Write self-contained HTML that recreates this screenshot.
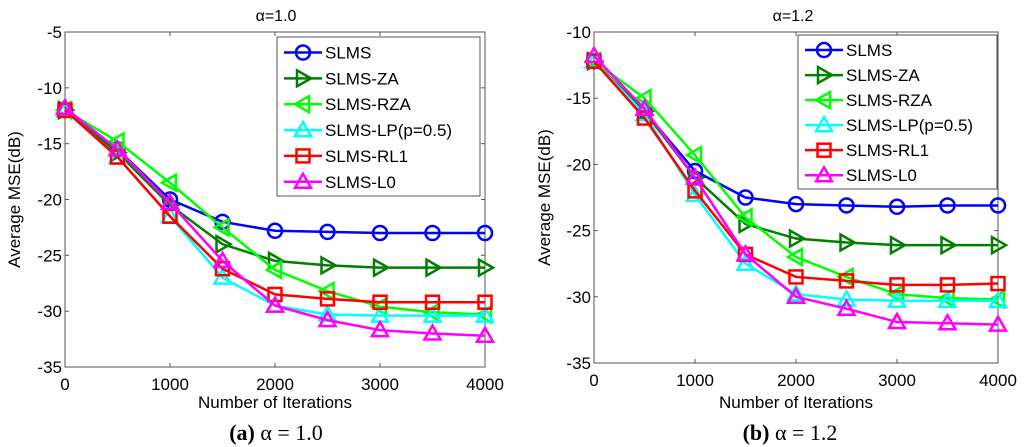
<!DOCTYPE html>
<html><head><meta charset="utf-8"><style>
html,body{margin:0;padding:0;background:#fff;width:1024px;height:447px;overflow:hidden}
svg text{font-family:"Liberation Sans",sans-serif;fill:#000}
</style></head><body>
<svg id="fig" width="1024" height="447" viewBox="0 0 1024 447"></svg>
<script>
const xValues=[0,500,1000,1500,2000,2500,3000,3500,4000];
const seriesNames=["SLMS","SLMS-ZA","SLMS-RZA","SLMS-LP(p=0.5)","SLMS-RL1","SLMS-L0"];
const leftSLMS=[-12,-15.5,-20,-22,-22.8,-22.9,-23,-23,-23];
const leftZA=[-12,-15.8,-20.5,-24,-25.5,-25.9,-26.1,-26.1,-26.1];
const leftRZA=[-12,-14.8,-18.5,-22.5,-26.3,-28.2,-29.6,-30.1,-30.3];
const leftLP=[-12,-16.2,-21.5,-27,-29.5,-30.3,-30.4,-30.4,-30.4];
const leftRL1=[-12,-16.2,-21.5,-26.2,-28.5,-28.9,-29.2,-29.2,-29.2];
const leftL0=[-11.8,-15.5,-20.3,-25.5,-29.5,-30.8,-31.7,-32,-32.2];
const rightSLMS=[-12.2,-16,-20.5,-22.5,-23,-23.1,-23.2,-23.1,-23.1];
const rightZA=[-12.2,-16,-21,-24.5,-25.6,-25.9,-26.1,-26.1,-26.1];
const rightRZA=[-12.2,-15,-19.3,-24,-27,-28.5,-29.8,-30.1,-30.2];
const rightLP=[-12.2,-16.2,-22.3,-27.5,-29.8,-30.2,-30.3,-30.3,-30.3];
const rightRL1=[-12.2,-16.5,-22,-26.8,-28.5,-28.8,-29.1,-29.1,-29];
const rightL0=[-11.8,-15.8,-21,-26.8,-30,-30.9,-31.9,-32,-32.1];
const xTicks=[0,1000,2000,3000,4000];
const leftYTicks=[-5,-10,-15,-20,-25,-30,-35];
const rightYTicks=[-10,-15,-20,-25,-30,-35];

const NS="http://www.w3.org/2000/svg";
const svg=document.getElementById('fig');
const colors=["#0000ff","#007f00","#00ff00","#00ffff","#ff0000","#ff00ff"];
const markers=["circle","tright","tleft","tup","square","tup"];
function el(tag,attrs,parent){const e=document.createElementNS(NS,tag);for(const k in attrs)e.setAttribute(k,attrs[k]);(parent||svg).appendChild(e);return e;}
function marker(g,type,x,y,c){
  const r=7;let e;
  if(type==="circle")e=el('circle',{cx:x,cy:y,r:r},g);
  else if(type==="square")e=el('rect',{x:x-r+0.5,y:y-r+0.5,width:2*r-1,height:2*r-1},g);
  else{let p;
    if(type==="tup")p=[[x,y-r-1],[x+r+1,y+r-1],[x-r-1,y+r-1]];
    if(type==="tright")p=[[x+r+1,y],[x-r+1,y-r-1],[x-r+1,y+r+1]];
    if(type==="tleft")p=[[x-r-1,y],[x+r-1,y-r-1],[x+r-1,y+r+1]];
    e=el('polygon',{points:p.map(q=>q.join(',')).join(' ')},g);}
  e.setAttribute('fill','none');e.setAttribute('stroke',c);e.setAttribute('stroke-width','2.5');
  return e;
}
function panel(opt){
  const {x0,x1,y0,y1,ymax,ymin,yTicks,data,title,titleX,leg,ylabX,id}=opt;
  const g=el('g',{});
  
  
  const sx=v=>x0+(v-0)/4000*(x1-x0);
  const sy=v=>y0+(ymax-v)/(ymax-ymin)*(y1-y0);
  const box=el('rect',{x:x0,y:y0,width:x1-x0,height:y1-y0,fill:'#fff',stroke:'#555','stroke-width':1},g);
  
  
  xTicks.forEach(t=>{
    el('line',{x1:sx(t),x2:sx(t),y1:y1,y2:y1-4,stroke:'#555'},g);
    el('line',{x1:sx(t),x2:sx(t),y1:y0,y2:y0+4,stroke:'#555'},g);
    const tx=el('text',{x:sx(t),y:y1+23,'text-anchor':'middle','font-size':'17'},g);tx.textContent=t;
    
    
  });
  yTicks.forEach(t=>{
    el('line',{x1:x0,x2:x0+4,y1:sy(t),y2:sy(t),stroke:'#555'},g);
    el('line',{x1:x1,x2:x1-4,y1:sy(t),y2:sy(t),stroke:'#555'},g);
    const tx=el('text',{x:x0-3,y:sy(t)+6,'text-anchor':'end','font-size':'17'},g);tx.textContent=t;
    
    
  });
  const tt=el('text',{x:titleX,y:21,'text-anchor':'middle','font-size':'16'},g);tt.textContent=title;
  
  
  const xl=el('text',{x:(x0+x1)/2,y:408,'text-anchor':'middle','font-size':'17'},g);xl.textContent="Number of Iterations";
  
  
  const yl=el('text',{x:ylabX,y:(y0+y1)/2,'text-anchor':'middle','font-size':'17',transform:`rotate(-90 ${ylabX} ${(y0+y1)/2})`},g);yl.textContent="Average MSE(dB)";
  
  
  data.forEach((s,i)=>{
    const sg=el('g',{},g);
    
    
    el('polyline',{points:s.map((v,j)=>sx(xValues[j])+','+sy(v)).join(' '),fill:'none',stroke:colors[i],'stroke-width':2.5},sg);
    s.forEach((v,j)=>{const m=marker(sg,markers[i],sx(xValues[j]),sy(v),colors[i]);
      
      });
  });
  const lg=el('g',{},g);
  
  
  el('rect',{x:leg.x,y:leg.y,width:leg.w,height:leg.h,fill:'#fff',stroke:'#555','stroke-width':1},lg);
  const step=leg.h/6.15;
  seriesNames.forEach((n,i)=>{
    const ey=leg.y+step*(i+0.6);
    const eg=el('g',{},lg);
    
    
    el('line',{x1:leg.x+7,x2:leg.x+45,y1:ey,y2:ey,stroke:colors[i],'stroke-width':2.5},eg);
    marker(eg,markers[i],leg.x+26,ey,colors[i]);
    const t=el('text',{x:leg.x+48,y:ey+6,'font-size':'17'},eg);t.textContent=n;
  });
}
panel({id:'left',x0:65,x1:485,y0:32,y1:367,ymax:-5,ymin:-35,yTicks:leftYTicks,
  data:[leftSLMS,leftZA,leftRZA,leftLP,leftRL1,leftL0],title:"α=1.0",titleX:276,
  leg:{x:277,y:37,w:203,h:159},ylabX:20});
panel({id:'right',x0:594,x1:998,y0:32,y1:363,ymax:-10,ymin:-35,yTicks:rightYTicks,
  data:[rightSLMS,rightZA,rightRZA,rightLP,rightRL1,rightL0],title:"α=1.2",titleX:793,
  leg:{x:798,y:35,w:199,h:154},ylabX:550});
function caption(x,b,rest){
  const t=el('text',{x:x,y:440,'text-anchor':'middle','font-size':'22',style:'font-family:"Liberation Serif",serif'});
  
  
  const s=document.createElementNS(NS,'tspan');s.setAttribute('font-weight','bold');s.textContent=b;t.appendChild(s);
  t.appendChild(document.createTextNode(rest));
}
caption(276,"(a)"," α = 1.0");
caption(790,"(b)"," α = 1.2");
</script>
</body></html>
